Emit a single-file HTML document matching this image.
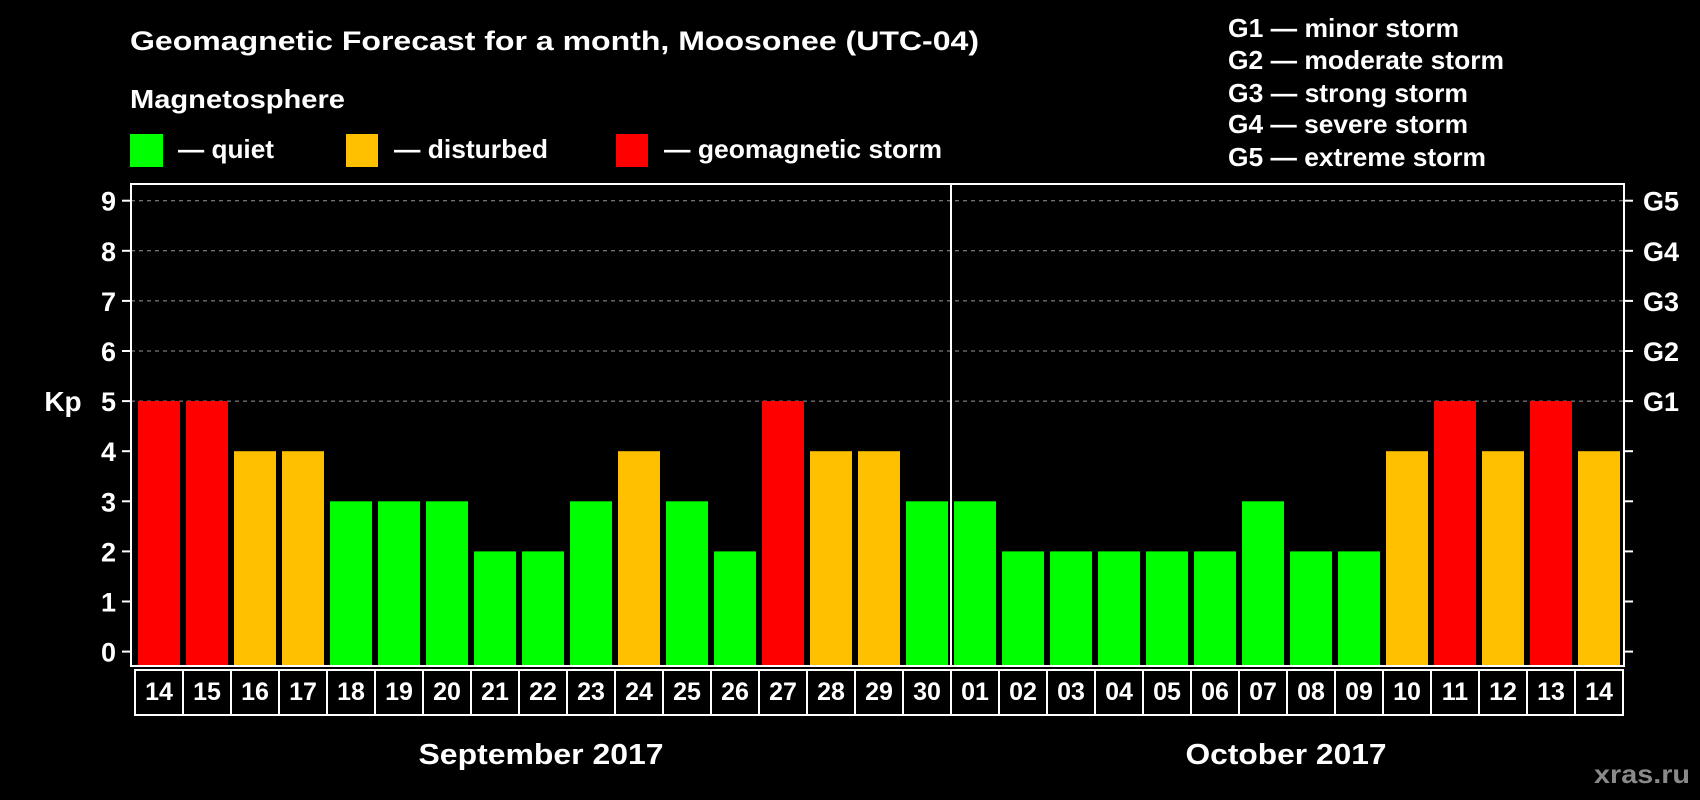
<!DOCTYPE html>
<html><head><meta charset="utf-8">
<style>
html,body{margin:0;padding:0;background:#000;}
svg{display:block;}
text{font-family:"Liberation Sans",Arial,sans-serif;font-weight:bold;fill:#fff;}
</style></head>
<body>
<svg id="chart" width="1700" height="800" viewBox="0 0 1700 800">
<rect width="1700" height="800" fill="#000"/>
<text x="130" y="50" font-size="27" textLength="849" lengthAdjust="spacingAndGlyphs">Geomagnetic Forecast for a month, Moosonee (UTC-04)</text>
<text x="130" y="108" font-size="26" textLength="215" lengthAdjust="spacingAndGlyphs">Magnetosphere</text>
<g>
<rect x="130" y="134" width="33" height="33" fill="#00ff00"/>
<text x="178" y="158" font-size="26" textLength="96" lengthAdjust="spacingAndGlyphs">— quiet</text></g>
<g>
<rect x="346" y="134" width="32" height="33" fill="#ffc000"/>
<text x="394" y="158" font-size="26" textLength="154" lengthAdjust="spacingAndGlyphs">— disturbed</text></g>
<g>
<rect x="616" y="134" width="32" height="33" fill="#ff0000"/>
<text x="664" y="158" font-size="26" textLength="278" lengthAdjust="spacingAndGlyphs">— geomagnetic storm</text></g>
<g font-size="26">
<text x="1228" y="37" textLength="231" lengthAdjust="spacingAndGlyphs">G1 — minor storm</text>
<text x="1228" y="69" textLength="276" lengthAdjust="spacingAndGlyphs">G2 — moderate storm</text>
<text x="1228" y="102" textLength="240" lengthAdjust="spacingAndGlyphs">G3 — strong storm</text>
<text x="1228" y="133" textLength="240" lengthAdjust="spacingAndGlyphs">G4 — severe storm</text>
<text x="1228" y="166" textLength="258" lengthAdjust="spacingAndGlyphs">G5 — extreme storm</text>
</g>
<text x="63" y="411" font-size="28" text-anchor="middle">Kp</text>
<g id="grid"></g>
<g id="bars"></g>
<g id="axes"></g>
<g id="dates"></g>
<text x="541" y="764" font-size="29" text-anchor="middle" textLength="245" lengthAdjust="spacingAndGlyphs">September 2017</text>
<text x="1286" y="764" font-size="29" text-anchor="middle" textLength="201" lengthAdjust="spacingAndGlyphs">October 2017</text>
<text x="1594" y="783" font-size="26" textLength="96" lengthAdjust="spacingAndGlyphs" style="fill:#8a8a8a">xras.ru</text>
</svg>
<script>
const days = ["14","15","16","17","18","19","20","21","22","23","24","25","26","27","28","29","30","01","02","03","04","05","06","07","08","09","10","11","12","13","14"];
const kpValues = [5,5,4,4,3,3,3,2,2,3,4,3,2,5,4,4,3,3,2,2,2,2,2,3,2,2,4,5,4,5,4];
const yTicks = [0,1,2,3,4,5,6,7,8,9];
const gLabels = ["","","","","","G1","G2","G3","G4","G5"];

const NS = "http://www.w3.org/2000/svg";
const plotL = 131, plotR = 1624, plotT = 184, plotB = 666;
const y0 = 651.6, unit = 50.1;
const x0 = 138, step = 48, barW = 42;
function yScale(v){ return y0 - v*unit; }
function xScale(i){ return x0 + i*step; }
function mk(tag, attrs, parent){
  const e = document.createElementNS(NS, tag);
  for (const k in attrs) e.setAttribute(k, attrs[k]);
  parent.appendChild(e); return e;
}
function color(v){ return v >= 5 ? "#ff0000" : (v >= 4 ? "#ffc000" : "#00ff00"); }

const grid = document.getElementById("grid");
const axes = document.getElementById("axes");
const bars = document.getElementById("bars");
const dates = document.getElementById("dates");

yTicks.forEach((t, i) => {
  const y = yScale(t);
  if (t >= 5) {
    const gl = mk("line", {x1:plotL, x2:plotR, y1:y, y2:y, stroke:"#999", "stroke-width":1, "stroke-dasharray":"4 4"}, grid);
    
    
  }
  const tl = mk("line", {x1:122, x2:plotL, y1:y, y2:y, stroke:"#fff", "stroke-width":2}, axes);
  
  
  const tr = mk("line", {x1:plotR, x2:plotR+9, y1:y, y2:y, stroke:"#fff", "stroke-width":2}, axes);
  
  
  const lab = mk("text", {x:116, y:y+10, "font-size":27, "text-anchor":"end"}, axes);
  lab.textContent = String(t);
  
  
  if (gLabels[i]) {
    const g = mk("text", {x:1643, y:y+10, "font-size":27}, axes);
    g.textContent = gLabels[i];
    
    
  }
});

kpValues.forEach((v, i) => {
  const top = yScale(v);
  const b = mk("rect", {x:xScale(i), y:top, width:barW, height:plotB - top, fill:color(v)}, bars);
  
  
});

const frame = mk("rect", {x:plotL, y:plotT, width:plotR-plotL, height:plotB-plotT, fill:"none", stroke:"#fff", "stroke-width":2}, axes);


const sep = mk("line", {x1:951, x2:951, y1:plotT, y2:plotB, stroke:"#fff", "stroke-width":2}, axes);



days.forEach((d, i) => {
  const bx = xScale(i) - 3;
  const r = mk("rect", {x:bx, y:670, width:step, height:45, fill:"none", stroke:"#fff", "stroke-width":2}, dates);
  
  
  const t = mk("text", {x:xScale(i) + barW/2, y:700, "font-size":25, "text-anchor":"middle"}, dates);
  t.textContent = d;
  
  
});
</script>
</body></html>
